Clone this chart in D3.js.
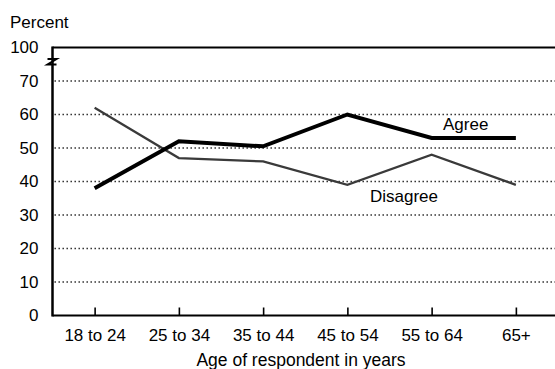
<!DOCTYPE html>
<html><head><meta charset="utf-8">
<script src="https://cdn.jsdelivr.net/npm/d3@7"></script>
<style>
html,body{margin:0;padding:0;background:#fff;}
svg{display:block;}
text{font-family:"Liberation Sans",Arial,Helvetica,sans-serif;fill:#000;}
</style></head><body>
<svg id="chart" width="555" height="369"></svg>
<script>
const categories = ["18 to 24","25 to 34","35 to 44","45 to 54","55 to 64","65+"];
const agree = [38, 52, 50.5, 60, 53, 53];
const disagree = [62, 47, 46, 39, 48, 39];
const yTickValues = [0, 10, 20, 30, 40, 50, 60, 70, 80];
const yTickLabels = ["0","10","20","30","40","50","60","70","100"];
const seriesNames = ["Agree", "Disagree"];

(function () {
const svg = d3.select("#chart");
const mLeft = 52.5, mRight = 558, mTop = 47.5, mBottom = 315.5;

const x = d3.scalePoint().domain(categories).range([mLeft, mRight]).padding(0.5);
const y = d3.scaleLinear().domain([0, 80]).range([mBottom, mTop]);

// gridlines (dotted)
svg.append("g").selectAll("line")
  .data(yTickValues.filter(v => v > 0 && v < 80))
  .join("line")
  .attr("x1", mLeft + 2).attr("x2", 555)
  .attr("y1", d => y(d)).attr("y2", d => y(d))
  .attr("stroke", "#222").attr("stroke-width", 1.3)
  .attr("stroke-dasharray", "1.4,2.6");

// top border (solid, at broken top value)
svg.append("line")
  .attr("x1", mLeft).attr("x2", 555)
  .attr("y1", y(80)).attr("y2", y(80))
  .attr("stroke", "#000").attr("stroke-width", 2);

// y axis labels
const yAxis = d3.axisLeft(y).tickValues(yTickValues)
  .tickFormat((d, i) => yTickLabels[i]).tickSize(0).tickPadding(14);
const gy = svg.append("g").attr("transform", `translate(${mLeft},0)`).call(yAxis);
gy.select(".domain").remove();
gy.selectAll("text").attr("font-size", 17).attr("font-family", "Liberation Sans, Arial, sans-serif").attr("fill", "#000");

// y axis line
svg.append("line")
  .attr("x1", mLeft).attr("x2", mLeft)
  .attr("y1", y(80) - 1).attr("y2", mBottom + 1)
  .attr("stroke", "#000").attr("stroke-width", 2.5);

// axis break mark
svg.append("path")
  .attr("d", `M${mLeft-5},${y(80)+11.5} L${mLeft+4},${y(80)+11.5} L${mLeft-5},${y(80)+17} L${mLeft+4},${y(80)+17}`)
  .attr("fill", "none").attr("stroke", "#000").attr("stroke-width", 2);

// x axis
const xAxis = d3.axisBottom(x).tickSize(-8).tickPadding(13.5).tickSizeOuter(0);
const gx = svg.append("g").attr("transform", `translate(0,${mBottom})`).call(xAxis);
gx.select(".domain").attr("stroke-width", 2.2).attr("d", `M${mLeft},0H555`);
gx.selectAll(".tick line").attr("stroke-width", 1.6);
gx.selectAll("text").attr("font-size", 17).attr("font-family", "Liberation Sans, Arial, sans-serif").attr("fill", "#000");

// lines
const line = d3.line().x((d, i) => x(categories[i])).y(d => y(d));
svg.append("path").datum(disagree).attr("d", line)
  .attr("fill", "none").attr("stroke", "#3a3a3a").attr("stroke-width", 2.2);
svg.append("path").datum(agree).attr("d", line)
  .attr("fill", "none").attr("stroke", "#000").attr("stroke-width", 4);

// series labels
svg.append("text").attr("x", 443).attr("y", 130).attr("font-size", 17).text(seriesNames[0]);
svg.append("text").attr("x", 370).attr("y", 202).attr("font-size", 17).text(seriesNames[1]);

// titles
svg.append("text").attr("x", 10).attr("y", 27.5).attr("font-size", 17).text("Percent");
svg.append("text").attr("x", 301).attr("y", 366).attr("text-anchor", "middle")
  .attr("font-size", 17.5).text("Age of respondent in years");
})();
</script>
</body></html>
